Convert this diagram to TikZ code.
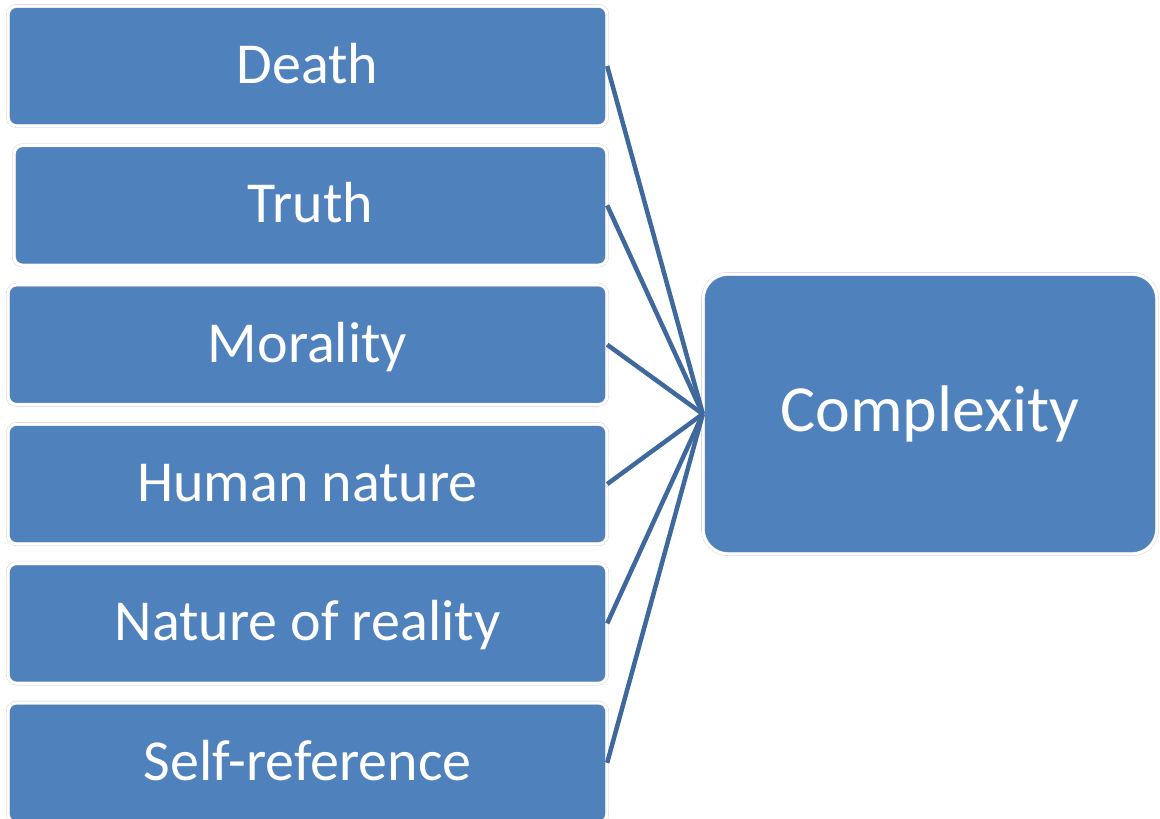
\documentclass[tikz,border=0pt]{standalone}
\usepackage{fontspec}
\setmainfont{Carlito}
\usetikzlibrary{positioning}
\definecolor{tile}{HTML}{4F81BD}
\definecolor{rim}{HTML}{C9C9C9}
\definecolor{link}{HTML}{3F699C}
\tikzset{box/.style={draw=rim,double=white,double distance=0.06cm,line width=0.2pt,rounded corners=0.17cm,fill=tile,text=white,align=center,font=\fontsize{33}{40}\selectfont,text height=20pt,text depth=0pt,inner sep=0pt,minimum width=11.98cm,minimum height=2.4cm}, hub/.style={box,rounded corners=0.5cm,font=\fontsize{37.5}{44}\selectfont,minimum width=9.08cm,minimum height=5.6cm}, spoke/.style={draw=link,line width=0.09cm}}

\begin{document}
\begin{tikzpicture}[node distance=0.38cm]
\useasboundingbox (0,0) rectangle (23.2,-16.36);
\node[box] (d) at (6.15,-1.32) {Death};
\node[box,minimum width=11.86cm,below=of d,xshift=0.06cm] (t) {Truth};
\node[box,below=of t,xshift=-0.06cm] (m) {Morality};
\node[box,below=of m] (h) {Human nature};
\node[box,below=of h] (n) {Nature of reality};
\node[box,below=of n] (s) {Self-reference};
\node[hub] (c) at (18.6,-8.28) {Complexity};
\foreach \x in {d,t,m,h,n,s} \draw[spoke] (\x.east)--(c.west);
\end{tikzpicture}
\end{document}
